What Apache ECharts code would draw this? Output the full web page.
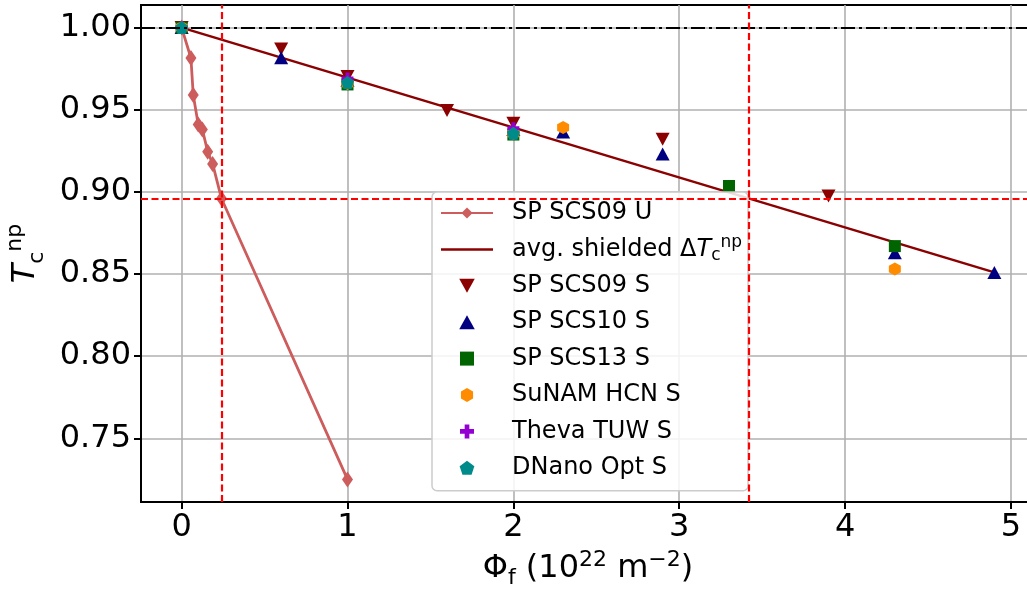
<!DOCTYPE html>
<html><head><meta charset="utf-8">
<script src="https://cdn.jsdelivr.net/npm/echarts@6/dist/echarts.min.js"></script>
<style>html,body{margin:0;padding:0;background:#fff}#c{width:1027px;height:589px}</style>
</head><body><div id="c"></div>
<script>
// ---- data ----
const scs09U = [[0,1.0],[0.056,0.9815],[0.07,0.959],[0.10,0.941],[0.125,0.938],[0.157,0.9245],[0.187,0.917],[0.24,0.896],[1.0,0.725]];
const avgShielded = [[0,1.0],[4.9,0.851]];
const scs09S = [[0,1.0],[0.6,0.987],[1.0,0.9703],[1.6,0.9495],[2.0,0.9418],[2.9,0.932],[3.9,0.8975]];
const scs10S = [[0,1.0],[0.6,0.9817],[1.0,0.968],[2.0,0.938],[2.3,0.9365],[2.9,0.923],[4.3,0.863],[4.9,0.851]];
const scs13S = [[0,1.0],[1.0,0.9654],[2.0,0.9349],[3.3,0.9036],[4.3,0.867]];
const sunamS = [[0,1.0],[1.0,0.966],[2.0,0.9355],[2.3,0.9392],[4.3,0.853]];
const thevaS = [[0,1.0],[1.0,0.969],[2.0,0.9388]];
const dnanoS = [[0,1.0],[1.0,0.9666],[2.0,0.9357]];
const refVertical = [0.24, 3.42];
const refHorizontal = 0.896;
const unityLine = 1.0;
const xTicks = [0,1,2,3,4,5];
const yTicks = [0.75,0.80,0.85,0.90,0.95,1.00];

const TRI_DOWN = 'path://M0,0 L2,0 L1,1.8 Z';
const TRI_UP = 'path://M1,0 L2,1.8 L0,1.8 Z';
const SQUARE = 'path://M0,0 H1 V1 H0 Z';
const HEX = 'path://M1,0 L1.866,0.5 L1.866,1.5 L1,2 L0.134,1.5 L0.134,0.5 Z';
const PENT = 'path://M1,0 L1.951,0.691 L1.588,1.809 L0.412,1.809 L0.049,0.691 Z';
const PLUS = 'path://M1,0 H2 V1 H3 V2 H2 V3 H1 V2 H0 V1 H1 Z';
const LINE_ICON = 'path://M0,0 H52 V2.5 H0 Z';
const FONT = 'DejaVu Sans';

const chart = echarts.init(document.getElementById('c'), null, {renderer:'canvas'});
function scatter(name, data, symbol, size, color){
  return {name, type:'scatter', data, symbol, symbolSize:size, itemStyle:{color, opacity:1}, z:3};
}
chart.setOption({
  animation:false,
  backgroundColor:'#fff',
  textStyle:{fontFamily:FONT},
  grid:{left:141, right:-8, top:5, bottom:87, containLabel:false, outerBoundsMode:'none',
    show:true, borderColor:'#000', borderWidth:2, backgroundColor:'transparent'},
  xAxis:{type:'value', min:-0.245, max:5.145, minInterval:1, maxInterval:1, splitNumber:5,
    axisLine:{show:true, onZero:false, lineStyle:{color:'#000', width:2}},
    axisTick:{show:true, length:7, customValues:xTicks, lineStyle:{color:'#000', width:2}},
    axisLabel:{fontSize:32, color:'#000', fontFamily:FONT, margin:10,
      formatter:v => xTicks.some(t => Math.abs(t-v)<1e-6) ? String(Math.round(v)) : ''},
    splitLine:{show:true, lineStyle:{color:'#b0b0b0', width:1.6}},
    name:'Φ{sub|f} (10{sup|22} m{sup|−2})', nameLocation:'middle', nameGap:62,
    nameTextStyle:{fontSize:32, color:'#000', fontFamily:FONT, lineHeight:40, verticalAlign:'middle',
      rich:{sub:{fontSize:22, verticalAlign:'bottom', lineHeight:36, fontFamily:FONT},
            sup:{fontSize:22, verticalAlign:'top', lineHeight:36, fontFamily:FONT}}}
  },
  yAxis:{type:'value', min:0.71125, max:1.01375, minInterval:0.05, maxInterval:0.05, splitNumber:6,
    axisLine:{show:true, onZero:false, lineStyle:{color:'#000', width:2}},
    axisTick:{show:true, length:7, customValues:yTicks, lineStyle:{color:'#000', width:2}},
    axisLabel:{fontSize:32, color:'#000', fontFamily:FONT, margin:10,
      formatter:v => yTicks.some(t => Math.abs(t-v)<1e-6) ? v.toFixed(2) : ''},
    splitLine:{show:true, lineStyle:{color:'#b0b0b0', width:1.6}},
    name:'{it|T}{sub|c}{sup|np}', nameLocation:'middle', nameGap:93, nameRotate:90,
    nameTextStyle:{fontSize:32, color:'#000', fontFamily:FONT,
      rich:{it:{fontSize:32, fontStyle:'italic', fontFamily:FONT, lineHeight:44, verticalAlign:'middle'},
            sub:{fontSize:22, verticalAlign:'bottom', lineHeight:40, fontFamily:FONT},
            sup:{fontSize:22, verticalAlign:'top', lineHeight:44, fontFamily:FONT}}}
  },
  legend:{orient:'vertical', left:432, top:192, itemWidth:52, itemHeight:14, itemGap:6.4,
    padding:[6,6,8,8], backgroundColor:'rgba(255,255,255,0.85)', borderColor:'#cccccc', borderWidth:1.5, borderRadius:5,
    textStyle:{fontSize:24, color:'#000', fontFamily:FONT, lineHeight:30, padding:[0,0,0,14],
      rich:{it:{fontSize:24, fontStyle:'italic', fontFamily:FONT, lineHeight:30},
            sub:{fontSize:17, verticalAlign:'bottom', lineHeight:30, fontFamily:FONT},
            sup:{fontSize:17, verticalAlign:'top', lineHeight:30, fontFamily:FONT},
            n:{fontSize:24, fontFamily:FONT, lineHeight:30}}},
    formatter: n => n === 'avg. shielded ΔTnp' ? '{n|avg. shielded Δ}{it|T}{sub|c}{sup|np}' : n,
    data:['SP SCS09 U',{name:'avg. shielded ΔTnp', icon:LINE_ICON},'SP SCS09 S','SP SCS10 S','SP SCS13 S','SuNAM HCN S','Theva TUW S','DNano Opt S']
  },
  series:[
    {name:'refs', type:'line', data:[], silent:true, z:2,
      markLine:{silent:true, precision:4, symbol:['none','none'], label:{show:false}, animation:false,
        data:[
          {yAxis:unityLine, lineStyle:{color:'#000', width:2, type:[14,4,3,4]}},
          {yAxis:refHorizontal, lineStyle:{color:'#ff0000', width:2.2, type:[7,3.5]}},
          {xAxis:refVertical[0], lineStyle:{color:'#ff0000', width:2.2, type:[7,3.5]}},
          {xAxis:refVertical[1], lineStyle:{color:'#ff0000', width:2.2, type:[7,3.5]}}
        ]}},
    {name:'SP SCS09 U', type:'line', data:scs09U, symbol:'diamond', symbolSize:[11,16], showSymbol:true,
      lineStyle:{color:'#CD5C5C', width:2.8}, itemStyle:{color:'#CD5C5C'}, z:3},
    {name:'avg. shielded ΔTnp', type:'line', data:avgShielded, showSymbol:false, symbol:'none',
      lineStyle:{color:'#8B0000', width:2.5}, itemStyle:{color:'#8B0000'}, z:3},
    scatter('SP SCS09 S', scs09S, TRI_DOWN, [14,13], '#8B0000'),
    scatter('SP SCS10 S', scs10S, TRI_UP, [14,13], '#000080'),
    scatter('SP SCS13 S', scs13S, SQUARE, 12, '#006400'),
    scatter('SuNAM HCN S', sunamS, HEX, [12,13], '#FF8C00'),
    scatter('Theva TUW S', thevaS, PLUS, 12, '#9400D3'),
    scatter('DNano Opt S', dnanoS, PENT, 13, '#008B8B')
  ]
});
</script></body></html>
